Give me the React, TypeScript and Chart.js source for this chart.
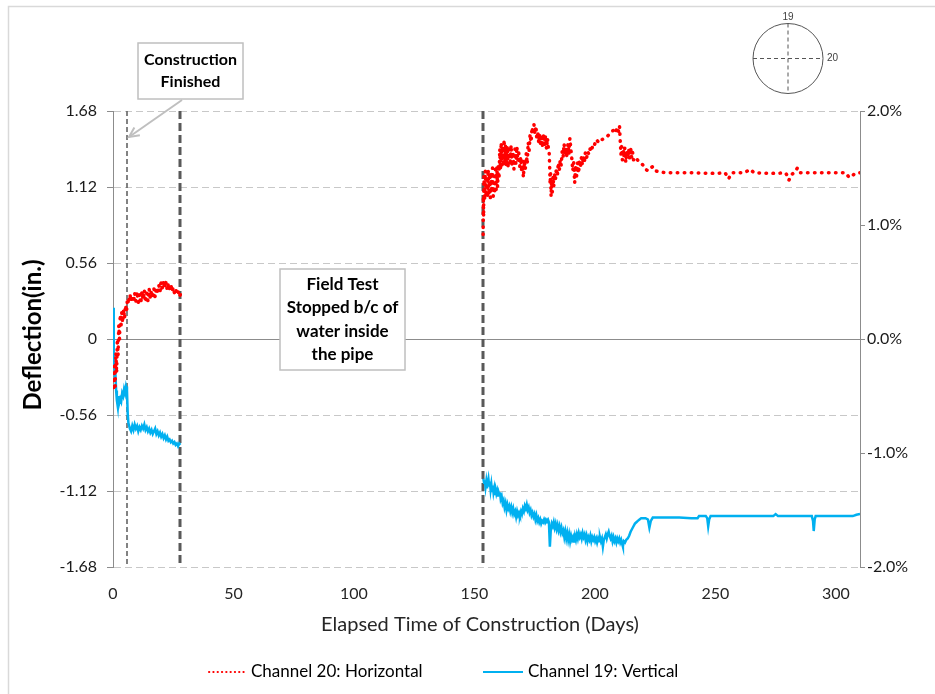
import React, { useEffect, useRef } from "react";
import { Chart, registerables } from "chart.js";
Chart.register(...registerables);

// Channel 20 (horizontal) — [day, deflection in.]
const ch20Early: [number, number][] = [
  [0, -0.30], [0.3, -0.38], [0.6, -0.20], [0.9, -0.35], [1.2, -0.10], [1.5, -0.25], [1.8, 0.0], [2.1, -0.12],
  [2.4, 0.10], [2.7, 0.0], [3.0, 0.18], [3.3, 0.08], [3.6, 0.20], [4.0, 0.12], [4.4, 0.22], [4.8, 0.15],
  [5.2, 0.25], [5.6, 0.20], [6.0, 0.30], [6.5, 0.26], [7, 0.33], [7.5, 0.28], [8, 0.32], [8.5, 0.27],
  [9, 0.34], [9.5, 0.28], [10, 0.35], [10.5, 0.27], [11, 0.33], [11.5, 0.26], [12, 0.35], [12.5, 0.29],
  [13, 0.36], [13.5, 0.27], [14, 0.34], [14.5, 0.28], [15, 0.37], [15.5, 0.30], [16, 0.36], [16.5, 0.30],
  [17, 0.37], [17.5, 0.31], [18, 0.38], [18.5, 0.33], [19, 0.40], [19.5, 0.35], [20, 0.42], [20.5, 0.37],
  [21, 0.43], [21.5, 0.38], [22, 0.42], [22.5, 0.36], [23, 0.41], [23.5, 0.37], [24, 0.40], [24.5, 0.35],
  [25, 0.38], [25.5, 0.34], [26, 0.37], [26.5, 0.33], [27, 0.35], [27.5, 0.31], [28, 0.33],
];
const ch20Late: [number, number][] = [
  [153.6, 0.77], [153.7, 1.05], [153.8, 0.90], [153.9, 1.20], [154.2, 1.02], [154.5, 1.24], [154.8, 1.05],
  [155.1, 1.20], [155.4, 1.04], [155.7, 1.25], [156.0, 1.06], [156.3, 1.22], [156.6, 1.04], [156.9, 1.23],
  [157.2, 1.08], [157.5, 1.26], [157.8, 1.05], [158.1, 1.20], [158.4, 1.07], [158.7, 1.25], [159.0, 1.10],
  [159.3, 1.27], [159.6, 1.12], [159.9, 1.29], [160.2, 1.18], [160.5, 1.40], [160.8, 1.25], [161.1, 1.45],
  [161.4, 1.28], [161.7, 1.42], [162.0, 1.27], [162.3, 1.47], [162.6, 1.30], [162.9, 1.43], [163.2, 1.27],
  [163.6, 1.42], [164.0, 1.26], [164.4, 1.40], [164.8, 1.28], [165.2, 1.43], [165.6, 1.27], [166.0, 1.38],
  [166.4, 1.25], [166.8, 1.40], [167.2, 1.29], [167.6, 1.42], [168.0, 1.31], [168.4, 1.37], [168.8, 1.27],
  [169.2, 1.34], [169.6, 1.23], [170.0, 1.31], [170.3, 1.19], [170.7, 1.31], [171.1, 1.25], [171.5, 1.37],
  [171.9, 1.29], [172.3, 1.45], [172.7, 1.39], [173.1, 1.51], [173.5, 1.45], [173.9, 1.56], [174.3, 1.51],
  [174.7, 1.58], [175.1, 1.51], [175.5, 1.57], [175.9, 1.47], [176.3, 1.53], [176.7, 1.44], [177.1, 1.51],
  [177.5, 1.42], [177.9, 1.49], [178.3, 1.41], [178.7, 1.51], [179.1, 1.43], [179.5, 1.50], [179.9, 1.40],
  [180.3, 1.48], [180.7, 1.40], [181.0, 1.38], [181.2, 1.28], [181.4, 1.14], [181.6, 1.22], [181.8, 1.05],
  [182.0, 1.16], [182.3, 1.08], [182.6, 1.20], [182.9, 1.12], [183.2, 1.22], [183.6, 1.17], [184.0, 1.26],
  [184.4, 1.20], [184.8, 1.30], [185.2, 1.24], [185.6, 1.32], [186.0, 1.28], [186.4, 1.38], [186.8, 1.34],
  [187.2, 1.44], [187.6, 1.36], [188.0, 1.40], [188.4, 1.34], [188.8, 1.44], [189.2, 1.36], [189.6, 1.48],
  [190.0, 1.40], [190.4, 1.33], [190.8, 1.24], [191.2, 1.30], [191.6, 1.15], [192.0, 1.28], [192.4, 1.20],
  [192.8, 1.30], [193.2, 1.22], [193.6, 1.32], [194.0, 1.26], [194.4, 1.34], [194.8, 1.28], [195.2, 1.35],
  [195.6, 1.30], [196.0, 1.37], [196.5, 1.33], [197.0, 1.38], [197.5, 1.36], [198.0, 1.40], [198.5, 1.38],
  [199.0, 1.42], [199.5, 1.41], [200.0, 1.44], [200.5, 1.43], [201.0, 1.46], [201.5, 1.45], [202.0, 1.47],
  [203.0, 1.47], [204.0, 1.48], [205.0, 1.49], [206.0, 1.51], [207.0, 1.53], [208.0, 1.54], [208.6, 1.52],
  [209.2, 1.56], [209.8, 1.53], [210.2, 1.57], [210.5, 1.46], [210.8, 1.36], [211.1, 1.42], [211.4, 1.32],
  [211.7, 1.40], [212.0, 1.34], [212.4, 1.41], [212.8, 1.30], [213.2, 1.38], [213.6, 1.34], [214.0, 1.40],
  [214.4, 1.33], [214.8, 1.41], [215.2, 1.34], [215.6, 1.38], [216.0, 1.32], [217.0, 1.34], [218.0, 1.31],
  [219.0, 1.30], [220.0, 1.28], [221.0, 1.25], [222.0, 1.24], [223.0, 1.26], [224.0, 1.27], [225.0, 1.24],
  [227.0, 1.23], [230.0, 1.225], [240.0, 1.225], [250.0, 1.22], [254.0, 1.225], [255.5, 1.18], [256.0, 1.20],
  [257.0, 1.225], [262.0, 1.225], [264.5, 1.25], [266.0, 1.225], [275.0, 1.22], [279.0, 1.225], [280.0, 1.20],
  [280.5, 1.17], [281.5, 1.21], [283.0, 1.23], [284.0, 1.26], [285.0, 1.225], [295.0, 1.225], [304.0, 1.225],
  [305.5, 1.19], [306.5, 1.20], [308.0, 1.22], [310.0, 1.225],
];

// Channel 19 (vertical) — [day, deflection in.]
const ch19Early: [number, number][] = [
  [0, 0.23], [0.2, 0.0], [0.4, -0.20], [0.6, -0.15], [0.8, -0.30], [1.0, -0.25], [1.3, -0.38], [1.6, -0.45],
  [2.0, -0.50], [2.3, -0.42], [2.6, -0.47], [3.0, -0.44], [3.4, -0.46], [3.8, -0.40], [4.2, -0.42], [4.6, -0.37],
  [5.0, -0.40], [5.4, -0.35], [5.8, -0.38], [6.1, -0.55], [6.4, -0.62], [7, -0.66], [7.5, -0.68], [8, -0.64],
  [8.5, -0.67], [9, -0.63], [9.5, -0.66], [10, -0.64], [10.5, -0.68], [11, -0.65], [11.5, -0.67], [12, -0.64],
  [12.5, -0.66], [13, -0.63], [13.5, -0.67], [14, -0.65], [14.5, -0.68], [15, -0.66], [15.5, -0.69], [16, -0.67],
  [16.5, -0.70], [17, -0.68], [17.5, -0.66], [18, -0.70], [18.5, -0.68], [19, -0.71], [19.5, -0.69], [20, -0.72],
  [20.5, -0.70], [21, -0.73], [21.5, -0.71], [22, -0.74], [22.5, -0.72], [23, -0.75], [23.5, -0.74], [24, -0.76],
  [24.5, -0.75], [25, -0.77], [25.5, -0.76], [26, -0.78], [26.5, -0.77], [27, -0.79], [27.5, -0.77], [28, -0.78],
];
const ch19Late: [number, number][] = [
  [153.7, -1.03], [154.0, -1.06], [154.3, -1.04], [154.6, -1.09], [154.9, -1.05], [155.2, -1.10], [155.5, -1.06],
  [155.8, -1.03], [156.1, -1.08], [156.4, -1.05], [156.7, -1.11], [157.0, -1.07], [157.3, -1.12], [157.6, -1.08],
  [157.9, -1.13], [158.2, -1.10], [158.5, -1.15], [158.8, -1.11], [159.1, -1.14], [159.4, -1.12], [159.7, -1.16],
  [160.0, -1.13], [160.3, -1.15], [160.6, -1.13], [160.9, -1.18], [161.3, -1.16], [161.7, -1.21], [162.1, -1.19],
  [162.5, -1.24], [162.9, -1.21], [163.3, -1.26], [163.7, -1.22], [164.1, -1.25], [164.5, -1.23], [164.9, -1.27],
  [165.3, -1.24], [165.7, -1.28], [166.1, -1.25], [166.5, -1.29], [166.9, -1.27], [167.3, -1.31], [167.7, -1.27],
  [168.1, -1.30], [168.5, -1.28], [168.9, -1.30], [169.3, -1.27], [169.7, -1.29], [170.1, -1.25], [170.5, -1.27],
  [170.9, -1.23], [171.3, -1.25], [171.7, -1.22], [172.1, -1.26], [172.5, -1.24], [172.9, -1.28], [173.3, -1.26],
  [173.7, -1.30], [174.1, -1.28], [174.5, -1.31], [174.9, -1.29], [175.3, -1.33], [175.7, -1.30], [176.1, -1.34],
  [176.5, -1.32], [176.9, -1.35], [177.3, -1.33], [177.7, -1.36], [178.1, -1.34], [178.5, -1.35], [178.9, -1.33],
  [179.3, -1.35], [179.7, -1.33], [180.1, -1.34], [180.5, -1.33], [180.9, -1.35], [181.3, -1.53], [181.7, -1.40],
  [182.1, -1.36], [182.5, -1.38], [182.9, -1.35], [183.3, -1.39], [183.7, -1.36], [184.1, -1.40], [184.5, -1.37],
  [184.9, -1.41], [185.3, -1.38], [185.7, -1.42], [186.1, -1.39], [186.5, -1.43], [186.9, -1.41], [187.3, -1.46],
  [187.7, -1.42], [188.1, -1.47], [188.5, -1.43], [188.9, -1.48], [189.3, -1.44], [189.7, -1.49], [190.1, -1.45],
  [190.5, -1.48], [190.9, -1.46], [191.3, -1.50], [191.7, -1.45], [192.1, -1.48], [192.5, -1.44], [192.9, -1.47],
  [193.3, -1.43], [193.7, -1.46], [194.1, -1.44], [194.5, -1.47], [194.9, -1.43], [195.3, -1.46], [195.7, -1.44],
  [196.1, -1.48], [196.5, -1.45], [196.9, -1.49], [197.3, -1.46], [197.7, -1.48], [198.1, -1.45], [198.5, -1.49],
  [198.9, -1.46], [199.3, -1.48], [199.7, -1.46], [200.1, -1.49], [200.5, -1.47], [200.9, -1.50], [201.3, -1.47],
  [201.7, -1.49], [202.1, -1.46], [202.5, -1.49], [202.9, -1.47], [203.3, -1.53], [203.7, -1.48], [204.1, -1.46],
  [204.5, -1.44], [204.9, -1.47], [205.3, -1.44], [205.7, -1.42], [206.1, -1.45], [206.5, -1.47], [206.9, -1.45],
  [207.3, -1.49], [207.7, -1.46], [208.1, -1.49], [208.5, -1.47], [208.9, -1.50], [209.3, -1.47], [209.7, -1.49],
  [210.1, -1.47], [210.5, -1.50], [210.9, -1.48], [211.3, -1.51], [211.6, -1.53], [212.0, -1.49], [212.5, -1.50],
  [213.0, -1.48], [213.6, -1.47], [214.2, -1.45], [214.8, -1.42], [215.4, -1.40], [216.0, -1.38], [216.6, -1.36],
  [217.2, -1.35], [217.8, -1.34], [218.5, -1.33], [219.2, -1.32], [220.0, -1.32], [221.0, -1.32], [222.0, -1.33],
  [222.6, -1.39], [223.2, -1.34], [224.0, -1.316], [235.0, -1.316], [240.0, -1.32], [242.6, -1.32], [243.2, -1.305],
  [246.0, -1.305], [246.6, -1.32], [247.0, -1.38], [247.4, -1.33], [248.0, -1.305], [274.0, -1.305], [275.0, -1.29],
  [276.0, -1.305], [290.0, -1.305], [290.5, -1.34], [290.8, -1.415], [291.2, -1.33], [291.6, -1.305],
  [307.0, -1.305], [308.5, -1.295], [310.0, -1.29],
];

const yTicks = [-1.68, -1.12, -0.56, 0, 0.56, 1.12, 1.68];
const y2Ticks = [-2, -1, 0, 1, 2];
const xTicks = [0, 50, 100, 150, 200, 250, 300];
const markerDays = [5.8, 27.8, 153.6];
const calloutConstruction = ["Construction", "Finished"];
const calloutField = ["Field Test", "Stopped b/c of", "water inside", "the pipe"];
const legendLabels = ["Channel 20: Horizontal", "Channel 19: Vertical"];
const sensorLabels = ["19", "20"];
const xTitle = "Elapsed Time of Construction (Days)";
const yTitle = "Deflection(in.)";

const FONT = 'Lato, "Open Sans", sans-serif';
const RED = "#ff0000";
const BLUE = "#00b0f0";

const toPoints = (a: [number, number][], b: [number, number][]) => [
  ...a.map(([x, y]) => ({ x, y })),
  { x: 90, y: null },
  ...b.map(([x, y]) => ({ x, y })),
];

const overlay = {
  id: "overlay",
  beforeDatasetsDraw(chart: any) {
    const { ctx, chartArea: a, scales } = chart;
    const xs = scales.x, ys = scales.y;
    ctx.save();
    const y0 = Math.round(ys.getPixelForValue(0)) + 0.5;
    ctx.strokeStyle = "#8c8c8c";
    ctx.lineWidth = 1;
    ctx.beginPath();
    ctx.moveTo(a.left, y0);
    ctx.lineTo(a.right, y0);
    ctx.stroke();
    const vline = (day: number, w: number, dash: number[]) => {
      const px = Math.round(xs.getPixelForValue(day));
      ctx.strokeStyle = "#595959";
      ctx.lineWidth = w;
      ctx.setLineDash(dash);
      ctx.beginPath();
      ctx.moveTo(px, a.top);
      ctx.lineTo(px, a.bottom);
      ctx.stroke();
    };
    vline(markerDays[0], 1.5, [5, 3]);
    vline(markerDays[1], 3, [8, 4]);
    vline(markerDays[2], 3, [8, 4]);
    ctx.restore();
  },
  afterDraw(chart: any) {
    const { ctx, chartArea: a } = chart;
    ctx.save();
    // outer border
    ctx.strokeStyle = "#d9d9d9";
    ctx.lineWidth = 1.5;
    ctx.strokeRect(8.5, 6.5, 1000, 1000);

    // axis titles
    ctx.fillStyle = "#262626";
    ctx.font = `20px ${FONT}`;
    ctx.textAlign = "center";
    ctx.textBaseline = "middle";
    ctx.fillText(xTitle, 480, 625);
    ctx.save();
    ctx.translate(33, 335);
    ctx.rotate(-Math.PI / 2);
    ctx.fillStyle = "#000000";
    ctx.font = `bold 24px ${FONT}`;
    ctx.fillText(yTitle, 0, 0);
    ctx.restore();

    const box = (x: number, y: number, w: number, h: number, lines: string[], size: number, lh: number) => {
      ctx.fillStyle = "#ffffff";
      ctx.fillRect(x, y, w, h);
      ctx.strokeStyle = "#bfbfbf";
      ctx.lineWidth = 1.5;
      ctx.strokeRect(x, y, w, h);
      ctx.fillStyle = "#000000";
      ctx.font = `bold ${size}px ${FONT}`;
      ctx.textAlign = "center";
      ctx.textBaseline = "middle";
      const cy = y + h / 2 - ((lines.length - 1) * lh) / 2;
      lines.forEach((t, i) => ctx.fillText(t, x + w / 2, cy + i * lh));
    };
    box(138, 43, 105, 56, calloutConstruction, 16, 22);
    box(280, 269, 125, 101, calloutField, 17, 23.5);

    // arrow
    ctx.strokeStyle = "#bfbfbf";
    ctx.lineWidth = 2;
    ctx.beginPath();
    ctx.moveTo(182, 100);
    ctx.lineTo(129, 137);
    ctx.stroke();
    const ang = Math.atan2(137 - 100, 129 - 182);
    ctx.beginPath();
    ctx.moveTo(129 - 11 * Math.cos(ang - 0.45), 137 - 11 * Math.sin(ang - 0.45));
    ctx.lineTo(129, 137);
    ctx.lineTo(129 - 11 * Math.cos(ang + 0.45), 137 - 11 * Math.sin(ang + 0.45));
    ctx.stroke();

    // sensor diagram
    const cx = 788, cyc = 58.5, r = 35;
    ctx.strokeStyle = "#555555";
    ctx.lineWidth = 1;
    ctx.beginPath();
    ctx.arc(cx, cyc, r, 0, Math.PI * 2);
    ctx.stroke();
    ctx.setLineDash([4, 3]);
    ctx.beginPath();
    ctx.moveTo(cx - r, cyc);
    ctx.lineTo(cx + r, cyc);
    ctx.moveTo(cx, cyc - r);
    ctx.lineTo(cx, cyc + r);
    ctx.stroke();
    ctx.setLineDash([]);
    ctx.fillStyle = "#404040";
    ctx.font = `10px "Liberation Sans", Arial, sans-serif`;
    ctx.textAlign = "center";
    ctx.textBaseline = "middle";
    ctx.fillText(sensorLabels[0], cx, 17);
    ctx.textAlign = "left";
    ctx.fillText(sensorLabels[1], cx + r + 4, cyc);

    // legend
    const ly = 672;
    ctx.strokeStyle = RED;
    ctx.lineWidth = 2;
    ctx.lineCap = "round";
    ctx.setLineDash([0.3, 4]);
    ctx.beginPath();
    ctx.moveTo(209, ly);
    ctx.lineTo(244, ly);
    ctx.stroke();
    ctx.setLineDash([]);
    ctx.lineCap = "butt";
    ctx.strokeStyle = BLUE;
    ctx.beginPath();
    ctx.moveTo(483, ly);
    ctx.lineTo(523, ly);
    ctx.stroke();
    ctx.fillStyle = "#000000";
    ctx.font = `17px ${FONT}`;
    ctx.textAlign = "left";
    ctx.textBaseline = "middle";
    ctx.fillText(legendLabels[0], 251, ly);
    ctx.fillText(legendLabels[1], 528, ly);
    ctx.restore();
  },
};

export default function App() {
  const ref = useRef<HTMLCanvasElement>(null);
  useEffect(() => {
    if (!ref.current) return;
    const chart = new Chart(ref.current, {
      type: "line",
      data: {
        datasets: [
          {
            label: legendLabels[0],
            data: toPoints(ch20Early, ch20Late) as any,
            borderColor: RED,
            borderWidth: 3.5,
            borderDash: [0.5, 6.5],
            borderCapStyle: "round",
            borderJoinStyle: "round",
            pointRadius: 0,
            tension: 0,
            yAxisID: "y",
          },
          {
            label: legendLabels[1],
            data: toPoints(ch19Early, ch19Late) as any,
            borderColor: BLUE,
            borderWidth: 2.5,
            pointRadius: 0,
            tension: 0,
            yAxisID: "y",
          },
        ],
      },
      options: {
        animation: false,
        responsive: false,
        events: [],
        layout: { padding: { top: 111, left: 0, right: 0, bottom: 0 } },
        plugins: { legend: { display: false }, tooltip: { enabled: false } },
        scales: {
          x: {
            type: "linear",
            min: 0,
            max: 310,
            afterBuildTicks: (s: any) => { s.ticks = xTicks.map((v) => ({ value: v })); },
            afterFit: (s: any) => { s.height = 127; },
            grid: { display: false },
            border: { display: false },
            ticks: { color: "#262626", font: { family: FONT, size: 16 }, padding: 9, maxRotation: 0 },
          },
          y: {
            type: "linear",
            position: "left",
            min: -1.68,
            max: 1.68,
            afterBuildTicks: (s: any) => { s.ticks = yTicks.map((v) => ({ value: v })); },
            afterFit: (s: any) => { s.width = 113; },
            grid: { color: "#c8c8c8", lineWidth: 1, tickLength: 6, tickColor: "#8c8c8c" },
            border: { display: true, color: "#8c8c8c", width: 1, dash: [7, 4] },
            ticks: {
              color: "#1a1a1a",
              font: { family: FONT, size: 16 },
              padding: 10,
              callback: (v: any) => (Number(v) === 0 ? "0" : Number(v).toFixed(2)),
            },
          },
          y2: {
            type: "linear",
            position: "right",
            min: -2,
            max: 2,
            afterBuildTicks: (s: any) => { s.ticks = y2Ticks.map((v) => ({ value: v })); },
            afterFit: (s: any) => { s.width = 75; },
            grid: { drawOnChartArea: false, tickLength: 5, color: "#8c8c8c" },
            border: { display: true, color: "#8c8c8c", width: 1 },
            ticks: {
              color: "#1a1a1a",
              font: { family: FONT, size: 16 },
              padding: 2,
              callback: (v: any) => Number(v).toFixed(1) + "%",
            },
          },
        },
      },
      plugins: [overlay],
    });
    return () => chart.destroy();
  }, []);
  return (
    <div style={{ position: "absolute", left: 0, top: 0, width: 935, height: 694, background: "#fff" }}>
      <canvas ref={ref} width={935} height={694} style={{ width: 935, height: 694, display: "block" }} />
    </div>
  );
}
